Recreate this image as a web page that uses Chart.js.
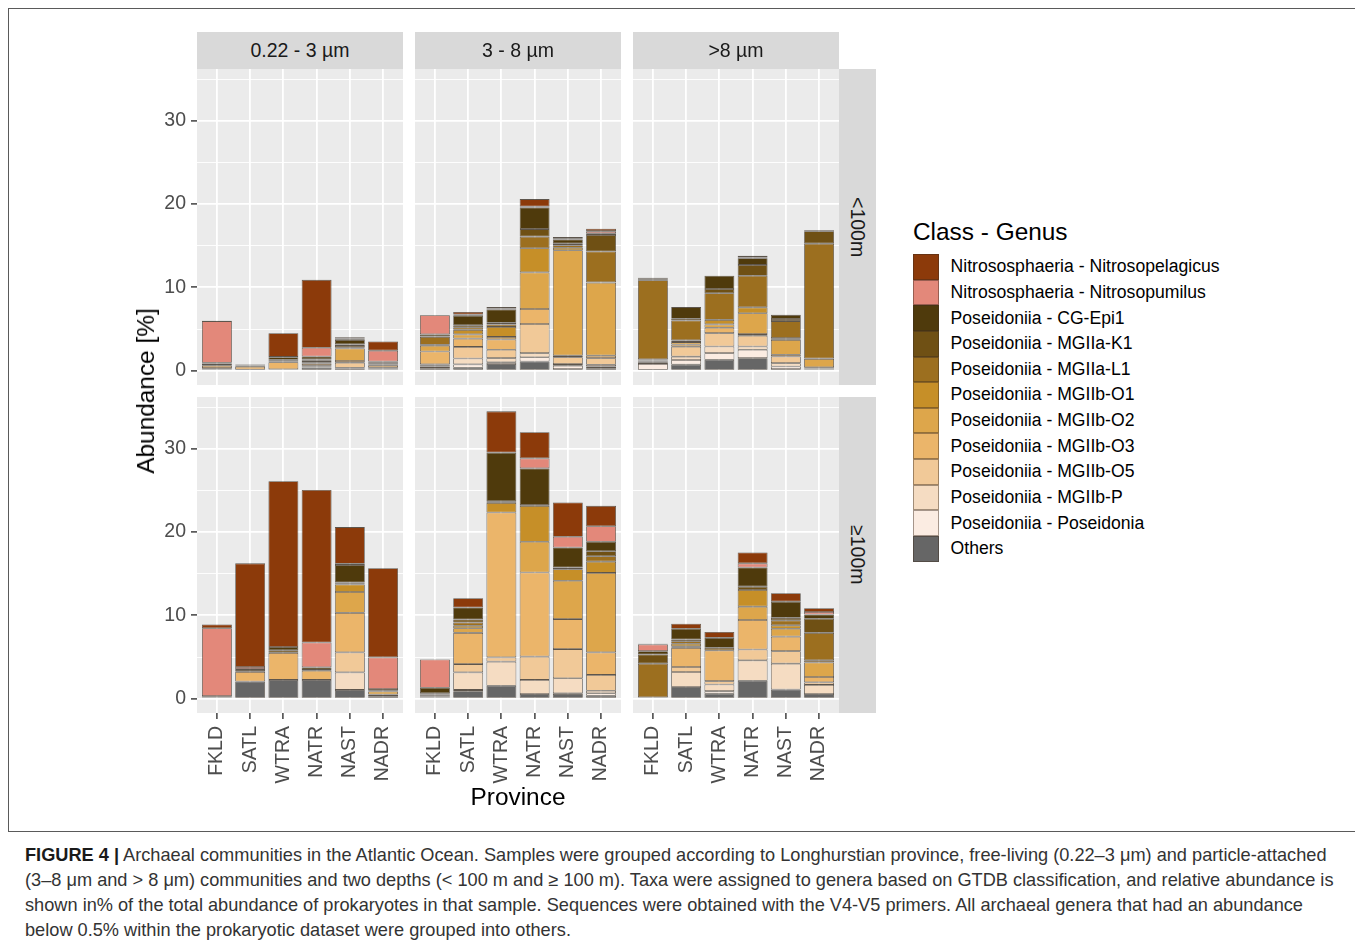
<!DOCTYPE html>
<html>
<head>
<meta charset="utf-8">
<script src="https://cdn.jsdelivr.net/npm/chart.js@4.4.0/dist/chart.umd.min.js"></script>
<style>
  body { margin: 0; background: #fff; width: 1355px; height: 949px; overflow: hidden; position: relative;
         font-family: "Liberation Sans", Arial, Helvetica, sans-serif; }
  canvas { position: absolute; }
  #frame { position: absolute; left: 8px; top: 8px; width: 1400px; height: 824px; border: 1px solid #5a5a5a; box-sizing: border-box; }
  .strip { position: absolute; background: #d9d9d9; color: #1a1a1a; font-size: 19.5px;
           display: flex; align-items: center; justify-content: center; }
  .strip.side span { writing-mode: vertical-rl; }
  .title { position: absolute; color: #000; font-size: 24.4px; white-space: nowrap; }
  #legend { position: absolute; left: 913px; top: 217px; }
  #legend .ltitle { font-size: 24.4px; color: #000; height: 37px; line-height: 29px; white-space: nowrap; }
  #legend .row { display: flex; align-items: center; height: 25.64px; }
  #legend .key { width: 25.6px; height: 25.64px; box-sizing: border-box; border: 0.6px solid rgba(60,45,30,0.45); }
  #legend .lab { margin-left: 12px; font-size: 17.6px; color: #000; white-space: nowrap; }
  #caption { position: absolute; left: 25px; top: 843px; color: #333; font-size: 18.2px; line-height: 25px; }
  #caption div { white-space: nowrap; }
  #caption b { color: #1a1a1a; }
</style>
</head>
<body>
<div id="frame"></div>
<div id="legend"></div>
<div id="caption">
  <div><b>FIGURE 4 |</b> Archaeal communities in the Atlantic Ocean. Samples were grouped according to Longhurstian province, free-living (0.22–3 μm) and particle-attached</div>
  <div>(3–8 μm and &gt; 8 μm) communities and two depths (&lt; 100 m and ≥ 100 m). Taxa were assigned to genera based on GTDB classification, and relative abundance is</div>
  <div>shown in% of the total abundance of prokaryotes in that sample. Sequences were obtained with the V4-V5 primers. All archaeal genera that had an abundance</div>
  <div>below 0.5% within the prokaryotic dataset were grouped into others.</div>
</div>
<script>
// ---- data -------------------------------------------------------------
const provinces = ['FKLD', 'SATL', 'WTRA', 'NATR', 'NAST', 'NADR'];
const sizeFractions = ['0.22 - 3 µm', '3 - 8 µm', '>8 µm'];
const depthLayers = ['<100m', '≥100m'];
const yTickLabels = [0, 10, 20, 30];
const yGridValues = [0, 5, 10, 15, 20, 25, 30, 35];

// legend order (top of stack first)
const taxa = [
  'Nitrososphaeria - Nitrosopelagicus',
  'Nitrososphaeria - Nitrosopumilus',
  'Poseidoniia - CG-Epi1',
  'Poseidoniia - MGIIa-K1',
  'Poseidoniia - MGIIa-L1',
  'Poseidoniia - MGIIb-O1',
  'Poseidoniia - MGIIb-O2',
  'Poseidoniia - MGIIb-O3',
  'Poseidoniia - MGIIb-O5',
  'Poseidoniia - MGIIb-P',
  'Poseidoniia - Poseidonia',
  'Others'
];
const taxaColors = [
  '#8c3a0a', '#e3887a', '#4f3a0c', '#6f5014', '#9c6f1f', '#c68f28',
  '#dda64b', '#ebb56a', '#f1c998', '#f5dcc2', '#fbece2', '#666666'
];

// abundance [%]: one row per taxon (order as above), one column per province
const fl_shallow = [
  [0.05, 0,    2.85, 8.15, 0.15, 1.1 ],
  [5.0,  0,    0.05, 1.05, 0.15, 1.3 ],
  [0,    0.1,  0.3,  0.35, 0.55, 0.1 ],
  [0,    0,    0.1,  0.1,  0.2,  0.1 ],
  [0.1,  0,    0.05, 0.2,  0.2,  0.1 ],
  [0.05, 0.05, 0.05, 0.1,  0.1,  0.05],
  [0.2,  0.1,  0.1,  0.1,  1.5,  0.15],
  [0.3,  0.35, 0.85, 0.2,  0.2,  0.25],
  [0.1,  0.05, 0.05, 0.15, 0.6,  0.1 ],
  [0.05, 0,    0,    0.1,  0.1,  0.05],
  [0.05, 0,    0,    0.05, 0.05, 0.05],
  [0.1,  0.08, 0.1,  0.35, 0.2,  0.15]
];
const pa38_shallow = [
  [0,    0.3,  0.2,  0.9,  0.2,   0.3 ],
  [2.3,  0.15, 0.1,  0.1,  0.1,   0.25],
  [0.25, 1.15, 1.6,  2.6,  0.5,   0.2 ],
  [0.05, 0.25, 0.2,  0.9,  0.2,   2.0 ],
  [0.95, 0.3,  0.3,  1.4,  0.3,   3.7 ],
  [0.1,  0.55, 1.2,  2.9,  0.3,   0.05],
  [0.7,  0.5,  0.3,  4.4,  12.65, 8.75],
  [1.55, 1.0,  1.25, 1.8,  0.2,   0.3 ],
  [0.15, 1.4,  1.0,  3.5,  0.8,   0.8 ],
  [0.1,  0.7,  0.5,  0.5,  0.2,   0.2 ],
  [0.2,  0.4,  0.2,  0.5,  0.4,   0.2 ],
  [0.3,  0.35, 0.8,  1.1,  0.2,   0.3 ]
];
const pa8_shallow = [
  [0.06, 0,    0,    0.2,  0,    0   ],
  [0.2,  0,    0,    0.1,  0,    0   ],
  [0,    1.4,  1.6,  0.8,  0.5,  0.1 ],
  [0.05, 0.2,  0.5,  1.3,  0.25, 1.5 ],
  [9.5,  2.4,  3.2,  3.8,  2.05, 13.8],
  [0.1,  0.2,  0.55, 0.7,  0.2,  0.05],
  [0.05, 0.3,  0.4,  2.5,  1.8,  1.0 ],
  [0.1,  0.25, 0.65, 0.2,  0.2,  0.1 ],
  [0.15, 1.2,  1.6,  1.3,  0.8,  0.05],
  [0.15, 0.4,  0.8,  0.4,  0.4,  0.05],
  [0.7,  0.56, 0.8,  1.0,  0.3,  0.05],
  [0.1,  0.72, 1.3,  1.5,  0.2,  0.15]
];
const fl_deep = [
  [0.45, 12.45, 19.9, 18.3, 4.4,  10.7],
  [8.15, 0.25,  0,    3.0,  0.15, 3.8 ],
  [0.15, 0.25,  0.4,  0.3,  2.1,  0.2 ],
  [0,    0,     0.3,  0,    0.1,  0   ],
  [0,    0,     0,    0,    0.15, 0   ],
  [0,    0,     0,    0,    0.9,  0.1 ],
  [0,    0.1,   0,    0.1,  2.5,  0.35],
  [0,    1.15,  3.25, 1.1,  4.75, 0.2 ],
  [0,    0,     0,    0,    2.4,  0   ],
  [0,    0,     0,    0,    2.1,  0   ],
  [0,    0,     0,    0,    0,    0   ],
  [0.15, 2.05,  2.25, 2.25, 1.05, 0.3 ]
];
const pa38_deep = [
  [0,    1.1,  4.95, 3.15, 4.1,  2.45],
  [3.4,  0,    0,    1.2,  1.3,  1.85],
  [0.65, 1.45, 5.85, 4.4,  2.4,  1.15],
  [0,    0.35, 0.1,  0,    0,    0.6 ],
  [0.15, 0.4,  0.1,  0.1,  0.2,  0.65],
  [0.1,  0.3,  1.15, 4.3,  1.4,  1.35],
  [0.15, 0.55, 0,    3.7,  4.6,  9.55],
  [0.1,  3.75, 17.4, 10.1, 3.6,  2.7 ],
  [0,    1.0,  0.5,  2.8,  3.5,  1.9 ],
  [0,    2.1,  2.9,  1.7,  1.8,  0.3 ],
  [0,    0.15, 0,    0,    0.1,  0.3 ],
  [0.15, 0.9,  1.55, 0.55, 0.55, 0.35]
];
const pa8_deep = [
  [0.1,  0.6,  0.7,  1.3,  1.0,  0.45],
  [0.8,  0,    0,    0.5,  0,    0.3 ],
  [0.4,  1.3,  1.2,  2.3,  1.95, 0.5 ],
  [1.1,  0.2,  0,    0.4,  0.3,  1.7 ],
  [4.05, 0.3,  0.3,  0,    0.6,  3.3 ],
  [0,    0.3,  0,    2.0,  0.4,  0.25],
  [0,    0.2,  0,    1.6,  0.95, 1.75],
  [0,    2.3,  3.7,  3.55, 1.75, 0.65],
  [0,    0.6,  0.4,  1.3,  1.5,  0.3 ],
  [0,    1.8,  0.8,  2.45, 3.1,  1.1 ],
  [0,    0,    0.3,  0,    0,    0   ],
  [0.15, 1.4,  0.6,  2.15, 1.1,  0.55]
];

const panels = [
  [fl_shallow, pa38_shallow, pa8_shallow],
  [fl_deep,    pa38_deep,    pa8_deep]
];

// ---- layout -----------------------------------------------------------
const FONT = '"Liberation Sans", Arial, Helvetica, sans-serif';
Chart.defaults.font.family = FONT;
const colLeft = [197, 415, 633];
const rowTop = [69, 397];
const panelW = 206, panelH = 316;
const M = 20, Y_AXIS_W = 70, X_AXIS_H = 80;

// shared y range: stacked maximum with 5% expansion on both sides
let stackMax = 0;
panels.flat().forEach(t => provinces.forEach((_, j) => {
  stackMax = Math.max(stackMax, t.reduce((s, row) => s + row[j], 0));
}));
const yMin = -0.05 * stackMax, yMax = 1.05 * stackMax;

const panelBg = {
  id: 'panelBg',
  beforeDraw(chart) {
    const { ctx, chartArea: a } = chart;
    ctx.save();
    ctx.fillStyle = '#ebebeb';
    ctx.fillRect(a.left, a.top, a.right - a.left, a.bottom - a.top);
    ctx.restore();
  }
};

function addPanel(r, c, table) {
  const showY = c === 0, showX = r === 1;
  const yw = showY ? Y_AXIS_W : 0, xh = showX ? X_AXIS_H : 0;
  const cv = document.createElement('canvas');
  cv.width = panelW + yw + 2 * M;
  cv.height = panelH + xh + 2 * M;
  cv.style.left = (colLeft[c] - yw - M) + 'px';
  cv.style.top = (rowTop[r] - M) + 'px';
  document.body.appendChild(cv);

  const datasets = taxa.map((name, i) => ({
    label: name,
    data: table[i].map((v, j) => ({ x: j, y: v })),
    backgroundColor: taxaColors[i],
    borderColor: 'rgba(38,26,14,0.72)',
    borderWidth: 0.8,
    borderSkipped: false,
    barPercentage: 0.9,
    categoryPercentage: 1
  })).reverse(); // "Others" at the bottom of each stack

  new Chart(cv, {
    type: 'bar',
    data: { datasets },
    options: {
      responsive: false,
      animation: false,
      layout: { padding: M },
      plugins: { legend: { display: false }, tooltip: { enabled: false } },
      scales: {
        x: {
          type: 'linear', stacked: true, offset: false,
          min: -0.6, max: provinces.length - 0.4,
          afterBuildTicks: s => { s.ticks = provinces.map((_, j) => ({ value: j })); },
          afterFit: s => { s.height = xh; },
          border: { display: false },
          grid: { offset: false, color: '#ffffff', lineWidth: 1.8, drawTicks: showX,
                  tickLength: 6, tickColor: '#333333', tickWidth: 1.4 },
          ticks: { display: showX, autoSkip: false, minRotation: 90, maxRotation: 90, padding: 7,
                   color: '#4d4d4d', font: { size: 19.5 }, callback: v => provinces[v] }
        },
        y: {
          stacked: true, min: yMin, max: yMax,
          afterBuildTicks: s => { s.ticks = yGridValues.map(v => ({ value: v })); },
          afterFit: s => { s.width = yw; },
          border: { display: false },
          grid: {
            color: '#ffffff',
            lineWidth: ctx => yTickLabels.includes(ctx.tick.value) ? 1.8 : 0.9,
            drawTicks: showY, tickLength: 6, tickWidth: 1.4,
            tickColor: ctx => yTickLabels.includes(ctx.tick.value) ? '#333333' : 'rgba(0,0,0,0)'
          },
          ticks: { display: showY, padding: 5, color: '#4d4d4d', font: { size: 19.5 },
                   callback: v => yTickLabels.includes(v) ? String(v) : '' }
        }
      }
    },
    plugins: [panelBg]
  });
}

panels.forEach((row, r) => row.forEach((table, c) => addPanel(r, c, table)));

// ---- facet strips, axis titles, legend ---------------------------------
function el(cls, css, html) {
  const d = document.createElement('div');
  d.className = cls;
  Object.assign(d.style, css);
  d.innerHTML = html;
  document.body.appendChild(d);
  return d;
}
sizeFractions.forEach((s, c) => el('strip', {
  left: colLeft[c] + 'px', top: '32px', width: panelW + 'px', height: '37px'
}, '<span>' + s + '</span>'));
depthLayers.forEach((s, r) => el('strip side', {
  left: (colLeft[2] + panelW) + 'px', top: rowTop[r] + 'px', width: '37px', height: panelH + 'px'
}, '<span>' + s + '</span>'));

el('title', { left: '518px', top: '797px', transform: 'translate(-50%,-50%)' }, 'Province');
el('title', { left: '146px', top: '391px', transform: 'translate(-50%,-50%) rotate(-90deg)' }, 'Abundance [%]');

const legend = document.getElementById('legend');
legend.innerHTML = '<div class="ltitle">Class - Genus</div>' +
  taxa.map((t, i) => '<div class="row"><div class="key" style="background:' + taxaColors[i] +
    '"></div><div class="lab">' + t + '</div></div>').join('');
</script>
</body>
</html>
